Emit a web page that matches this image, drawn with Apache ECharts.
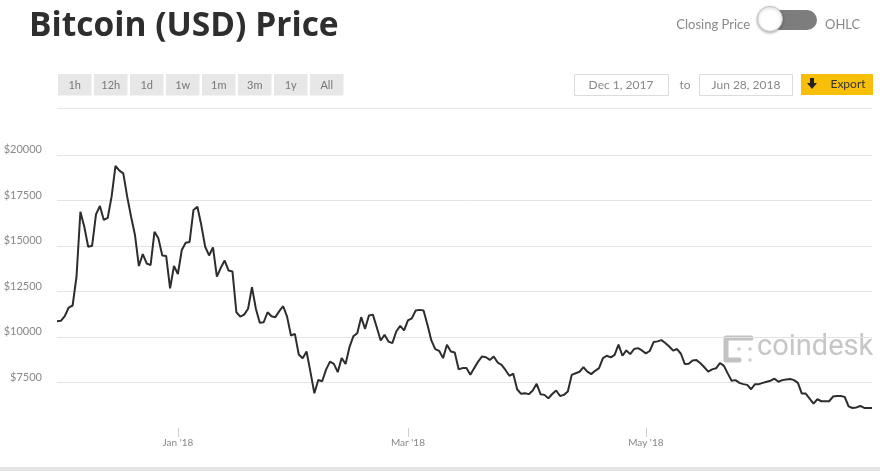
<!DOCTYPE html>
<html lang="en">

<head>
    <meta charset="UTF-8">
    <meta name="viewport" content="width=device-width, initial-scale=1.0">
    <script type="text/javascript" src="https://cdn.jsdelivr.net/npm/echarts@6/dist/echarts.min.js"></script>
    <title>Bitcoin (USD) Price</title>
    <style>
        html, body { margin: 0; padding: 0; background: #fff; }
        #container { width: 880px; height: 471px; }
    </style>
</head>

<body>
    <div id="container"></div>
</body>
<script type="text/javascript">
    // daily closing price, one array per month
    var decPrices = [10870, 10890, 11150, 11620, 11730, 13310, 16880, 16060, 14960, 15010,
        16740, 17200, 16430, 16540, 17710, 19400, 19140, 18990, 17710, 16610,
        15600, 13900, 14560, 14040, 13950, 15780, 15420, 14480, 14450, 12670, 13900];
    var janPrices = [13460, 14780, 15180, 15220, 16980, 17160, 16150, 14960, 14480, 14920,
        13320, 13800, 14200, 13650, 13600, 11360, 11120, 11230, 11550, 12740,
        11550, 10780, 10810, 11360, 11140, 11090, 11420, 11690, 11120, 10080, 10170];
    var febPrices = [9040, 8830, 9200, 8070, 6910, 7640, 7570, 8210, 8650, 8520,
        8070, 8850, 8520, 9440, 10040, 10210, 11090, 10450, 11180, 11230,
        10540, 9810, 10120, 9750, 9660, 10300, 10610, 10360];
    var marPrices = [10910, 11030, 11460, 11490, 11460, 10670, 9810, 9330, 9240, 8840,
        9570, 9200, 9150, 8230, 8290, 8290, 7920, 8290, 8650, 8930,
        8890, 8740, 8930, 8600, 8470, 8190, 7870, 7980, 7130, 6880, 6910];
    var aprPrices = [6860, 7060, 7430, 6860, 6820, 6630, 6870, 7060, 6760, 6820,
        7000, 7920, 8010, 8090, 8340, 8100, 7960, 8140, 8290, 8840,
        8970, 8880, 9020, 9580, 8970, 9260, 9060, 9340, 9390, 9260];
    var mayPrices = [9100, 9230, 9720, 9760, 9830, 9670, 9480, 9250, 9340, 9080,
        8510, 8530, 8710, 8730, 8560, 8340, 8100, 8220, 8280, 8560,
        8430, 8000, 7600, 7630, 7480, 7410, 7370, 7130, 7410, 7410, 7480];
    var junPrices = [7540, 7600, 7710, 7540, 7630, 7670, 7690, 7630, 7480, 6890,
        6890, 6610, 6340, 6580, 6470, 6470, 6470, 6730, 6760, 6760,
        6710, 6190, 6100, 6130, 6210, 6100, 6100, 6100];

    var months = [
        { year: 2017, month: 12, prices: decPrices },
        { year: 2018, month: 1, prices: janPrices },
        { year: 2018, month: 2, prices: febPrices },
        { year: 2018, month: 3, prices: marPrices },
        { year: 2018, month: 4, prices: aprPrices },
        { year: 2018, month: 5, prices: mayPrices },
        { year: 2018, month: 6, prices: junPrices }
    ];
    var monthNames = ['Jan', 'Feb', 'Mar', 'Apr', 'May', 'Jun', 'Jul', 'Aug', 'Sep', 'Oct', 'Nov', 'Dec'];
    var labelMonths = [1, 3, 5]; // Jan, Mar, May get a tick + label
    var yTicks = [5000, 20000, 2500]; // min, max, step
    var rangeButtons = ['1h', '12h', '1d', '1w', '1m', '3m', '1y', 'All'];

    var dates = [];
    var closes = [];
    months.forEach(function (m) {
        m.prices.forEach(function (p, i) {
            var mm = m.month < 10 ? '0' + m.month : '' + m.month;
            var dd = i + 1 < 10 ? '0' + (i + 1) : '' + (i + 1);
            dates.push(m.year + '-' + mm + '-' + dd);
            closes.push(p);
        });
    });

    function isLabelDay(value) {
        var parts = value.split('-');
        return parts[2] === '01' && labelMonths.indexOf(+parts[1]) >= 0;
    }

    var font = 'Lato, "Open Sans", sans-serif';

    var graphics = [
        {
            type: 'text', x: 29, y: 26,
            style: { text: 'Bitcoin (USD) Price', fill: '#2e2e2e', font: 'bold 33.5px "Open Sans", sans-serif', textVerticalAlign: 'middle' }
        },
        {
            type: 'text', x: 750, y: 25,
            style: { text: 'Closing Price', fill: '#888', font: '13px ' + font, textAlign: 'right', textVerticalAlign: 'middle' }
        },
        {
            type: 'rect', shape: { x: 770, y: 10, width: 47, height: 20, r: 10 },
            style: { fill: '#7d7d7d' }
        },
        {
            type: 'circle', shape: { cx: 770, cy: 19, r: 12.5 },
            style: { fill: '#fff', stroke: '#c4c4c4', lineWidth: 1, shadowBlur: 3, shadowOffsetY: 1, shadowColor: 'rgba(0,0,0,0.3)' }
        },
        {
            type: 'text', x: 825, y: 25,
            style: { text: 'OHLC', fill: '#888', font: '13px ' + font, textVerticalAlign: 'middle' }
        },
        // date range boxes
        {
            type: 'rect', shape: { x: 574.5, y: 74.5, width: 94, height: 21 },
            style: { fill: '#fff', stroke: '#dcdcdc', lineWidth: 1 }
        },
        {
            type: 'text', x: 621, y: 85,
            style: { text: 'Dec 1, 2017', fill: '#888', font: '12px ' + font, textAlign: 'center', textVerticalAlign: 'middle' }
        },
        {
            type: 'text', x: 685, y: 85,
            style: { text: 'to', fill: '#888', font: '12px ' + font, textAlign: 'center', textVerticalAlign: 'middle' }
        },
        {
            type: 'rect', shape: { x: 699.5, y: 74.5, width: 93, height: 21 },
            style: { fill: '#fff', stroke: '#dcdcdc', lineWidth: 1 }
        },
        {
            type: 'text', x: 746, y: 85,
            style: { text: 'Jun 28, 2018', fill: '#888', font: '12px ' + font, textAlign: 'center', textVerticalAlign: 'middle' }
        },
        {
            type: 'rect', shape: { x: 801, y: 74, width: 72, height: 21 },
            style: { fill: '#f8bf0a' }
        },
        {
            type: 'polygon',
            shape: { points: [[810, 78], [814, 78], [814, 83], [817, 83], [812, 89], [807, 83], [810, 83]] },
            style: { fill: '#222' }
        },
        {
            type: 'text', x: 848, y: 84,
            style: { text: 'Export', fill: '#333', font: '12px ' + font, textAlign: 'center', textVerticalAlign: 'middle' }
        },
        // separator under the controls
        {
            type: 'line', shape: { x1: 57, y1: 108.5, x2: 872, y2: 108.5 },
            style: { stroke: '#e6e6e6', lineWidth: 1 }
        },
        // bottom border of the widget
        {
            type: 'rect', shape: { x: 0, y: 467, width: 880, height: 4 },
            style: { fill: '#e4e4e4' }
        },
        // coindesk watermark
        {
            type: 'text', x: 757, y: 348,
            style: { text: 'coindesk', fill: '#c6c6c6', font: '29px Roboto, sans-serif', textVerticalAlign: 'middle' }
        },
        {
            type: 'polyline', shape: { points: [[751, 338], [726, 338], [726, 360], [739, 360]] },
            style: { stroke: '#c2c2c2', lineWidth: 5, lineCap: 'round', lineJoin: 'round', fill: null }
        },
        { type: 'circle', shape: { cx: 739, cy: 349, r: 1.8 }, style: { fill: '#cfcfcf' } },
        { type: 'circle', shape: { cx: 750, cy: 349, r: 1.8 }, style: { fill: '#cfcfcf' } },
        { type: 'circle', shape: { cx: 750, cy: 360, r: 1.8 }, style: { fill: '#cfcfcf' } }
    ];

    rangeButtons.forEach(function (label, i) {
        var bx = 58 + i * 36;
        graphics.push({
            type: 'rect', shape: { x: bx, y: 74, width: 33.5, height: 21.5 },
            style: { fill: '#e7e7e7' }
        });
        graphics.push({
            type: 'text', x: bx + 16.75, y: 85,
            style: { text: label, fill: '#777', font: '11px ' + font, textAlign: 'center', textVerticalAlign: 'middle' }
        });
    });

    var dom = document.getElementById('container');
    var myChart = echarts.init(dom, null, { renderer: 'canvas' });

    var option = {
        animation: false,
        backgroundColor: '#fff',
        grid: { left: 57, right: 8, top: 155, bottom: 43, containLabel: false },
        xAxis: {
            type: 'category',
            data: dates,
            boundaryGap: false,
            axisLine: { show: false },
            axisTick: {
                show: true,
                length: 9,
                interval: function (index, value) { return isLabelDay(value); },
                lineStyle: { color: '#cfcfcf' }
            },
            axisLabel: {
                interval: function (index, value) { return isLabelDay(value); },
                margin: 10,
                color: '#888',
                fontSize: 10,
                fontFamily: font,
                formatter: function (value) {
                    var parts = value.split('-');
                    return monthNames[+parts[1] - 1] + " '" + parts[0].slice(2);
                }
            },
            splitLine: { show: false }
        },
        yAxis: {
            type: 'value',
            min: yTicks[0],
            max: yTicks[1],
            interval: yTicks[2],
            axisLine: { show: false },
            axisTick: { show: false },
            axisLabel: {
                showMinLabel: false,
                margin: 15,
                color: '#888',
                fontSize: 11,
                fontFamily: font,
                verticalAlign: 'bottom',
                formatter: function (v) { return '$' + v; }
            },
            splitLine: { showMinLine: false, lineStyle: { color: '#e4e4e4', width: 1 } }
        },
        series: [{
            type: 'line',
            data: closes,
            symbol: 'none',
            lineStyle: { color: '#2d2d2d', width: 2 },
            z: 3
        }],
        graphic: graphics
    };

    myChart.setOption(option);
    window.addEventListener('resize', myChart.resize);
</script>

</html>
